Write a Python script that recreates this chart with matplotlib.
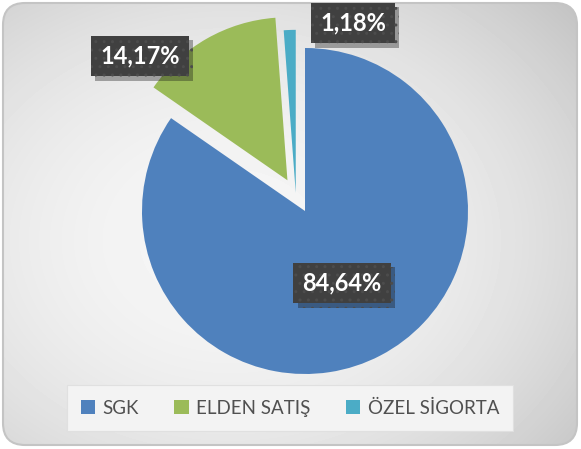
import numpy as np
import matplotlib
matplotlib.use("Agg")
import matplotlib.pyplot as plt
import matplotlib.patheffects as pe
from matplotlib.patches import FancyBboxPatch

plt.rcParams['font.family'] = ['Lato', 'DejaVu Sans']

categories = ["SGK", "ELDEN SATIŞ", "ÖZEL SİGORTA"]
values = [84.64, 14.17, 1.18]
colors = ["#4F81BD", "#9BBB59", "#4BACC6"]
explode = [0.0, 0.217, 0.125]
explode_dir = [None, None, 117]  # the small slice is pulled out towards the green one

W, H = 581, 449
fig = plt.figure(figsize=(W / 100, H / 100), dpi=100)

# background with rounded border and soft gradient
bg = fig.add_axes([0, 0, 1, 1])
bg.set_xlim(0, W)
bg.set_ylim(H, 0)
bg.axis("off")
yy, xx = np.mgrid[0:H, 0:W]
r = np.sqrt(((xx - 230) / 420.0) ** 2 + ((yy - 240) / 330.0) ** 2)
grad = np.clip(0.965 - 0.17 * r ** 2, 0.75, 1)
frame = FancyBboxPatch((3, 3), W - 7, H - 7, boxstyle="round,pad=0,rounding_size=22",
                       fc="none", ec="#c4c4c4", lw=1.5)
bg.add_patch(frame)
im = bg.imshow(grad, cmap="gray", vmin=0, vmax=1, extent=(0, W, H, 0), zorder=0)
im.set_clip_path(frame)

# pie
R = 163
cx, cy = 305, 211
half = 1.3
ax = fig.add_axes([(cx - half * R) / W, (H - cy - half * R) / H, 2 * half * R / W, 2 * half * R / H])
wedges, _ = ax.pie(values, colors=colors, startangle=90, counterclock=False,
                   explode=explode, wedgeprops=dict(linewidth=0))
for w, e, d in zip(wedges, explode, explode_dir):
    if d is not None:
        w.set_center((e * np.cos(np.radians(d)), e * np.sin(np.radians(d))))
ax.set_xlim(-half, half)
ax.set_ylim(-half, half)
ax.set_aspect("equal")
ax.axis("off")

# data labels (pixel positions of the label boxes)
label_pos = [(342, 283), (140, 56), (353, 23)]
for v, (px, py) in zip(values, label_pos):
    txt = f"{v:.2f}".replace(".", ",") + "%"
    t = fig.text(px / W, 1 - py / H, txt, ha="center", va="center", color="white",
                 fontsize=17, fontweight="bold", zorder=10,
                 bbox=dict(boxstyle="square,pad=0.38", fc="#404040", ec="#4c4c4c",
                           lw=0, hatch=".."))
    t.get_bbox_patch().set_path_effects([pe.SimplePatchShadow(offset=(3, -3), alpha=0.35),
                                         pe.Normal()])

leg = fig.legend(wedges, categories, loc="center", bbox_to_anchor=(290 / W, 1 - 408 / H),
                 ncol=3, frameon=True, fancybox=False, edgecolor="#e0e0e0",
                 facecolor="#f3f3f3", framealpha=1, fontsize=13.5, labelcolor="#505050",
                 handlelength=0.75, handleheight=0.75, handletextpad=0.4,
                 columnspacing=1.9, borderpad=0.75)
leg.get_frame().set_linewidth(0.8)

fig.savefig("out.png", dpi=100)
